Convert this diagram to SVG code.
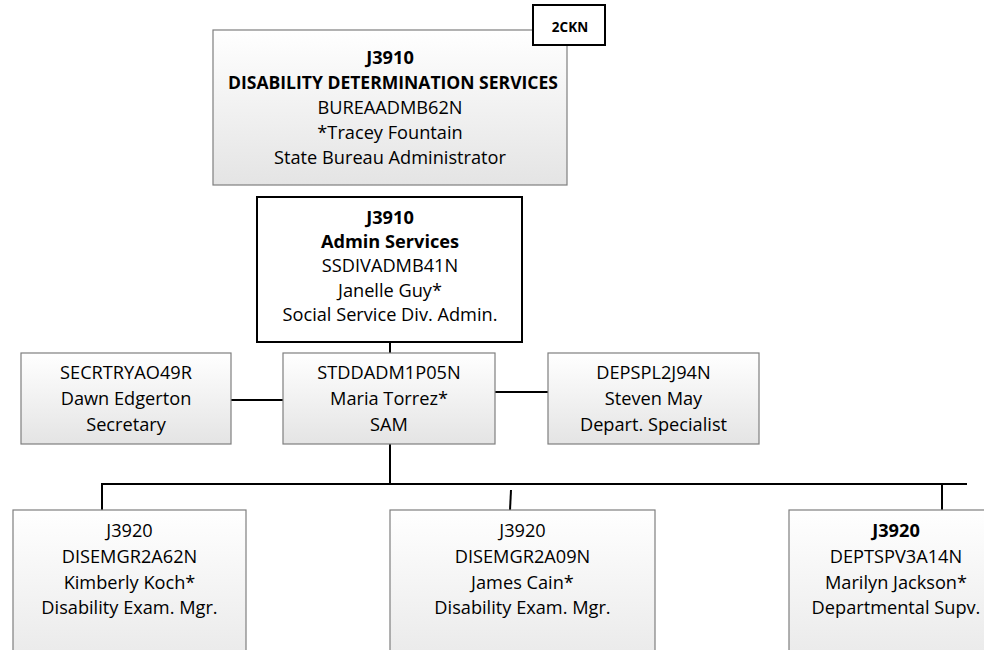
<svg xmlns="http://www.w3.org/2000/svg" width="984" height="650" viewBox="0 0 984 650">
<defs>
<linearGradient id="g" x1="0" y1="0" x2="0" y2="1">
<stop offset="0" stop-color="#ffffff"/>
<stop offset="1" stop-color="#e4e4e4"/>
</linearGradient>
<linearGradient id="g2" x1="0" y1="0" x2="0" y2="1">
<stop offset="0" stop-color="#ffffff"/>
<stop offset="0.7" stop-color="#ececec"/>
<stop offset="1" stop-color="#e4e4e4"/>
</linearGradient>
</defs>
<style>
.box{fill:url(#g);stroke:#7f7f7f;stroke-width:1.2}
.box2{fill:url(#g2);stroke:#7f7f7f;stroke-width:1.2}
.bold{fill:#ffffff;stroke:#000;stroke-width:2}
text{font-family:"Open Sans","Liberation Sans",sans-serif;font-size:18.2px;fill:#000;text-anchor:middle}
.b{font-weight:bold}
.conn line{stroke:#000;stroke-width:2;fill:none}
</style>
<rect width="984" height="650" fill="#ffffff"/>

<g class="conn" id="connectors">
<line x1="390" y1="342" x2="390" y2="353"/>
<line x1="231" y1="400" x2="283" y2="400"/>
<line x1="495" y1="392" x2="548" y2="392"/>
<line x1="390" y1="444" x2="390" y2="484"/>
<line x1="101" y1="484" x2="967" y2="484"/>
<line x1="102" y1="484" x2="102" y2="510"/>
<line x1="511" y1="490" x2="510" y2="510"/>
<line x1="942" y1="484" x2="942" y2="510"/>
</g>

<g id="node-dds">
<rect class="box" x="213" y="30" width="354" height="155"/>
<text x="390" y="64" class="b">J3910</text>
<text x="393" y="89" class="b" textLength="330" lengthAdjust="spacingAndGlyphs">DISABILITY DETERMINATION SERVICES</text>
<text x="390" y="114">BUREAADMB62N</text>
<text x="390" y="139">*Tracey Fountain</text>
<text x="390" y="164">State Bureau Administrator</text>
</g>

<g id="node-2ckn">
<rect class="bold" x="533" y="5" width="72" height="40"/>
<text x="570" y="32" class="b" style="font-size:13.5px">2CKN</text>
</g>

<g id="node-admin">
<rect class="bold" x="257" y="197" width="265" height="145"/>
<text x="390" y="224" class="b">J3910</text>
<text x="390" y="248" class="b">Admin Services</text>
<text x="390" y="272">SSDIVADMB41N</text>
<text x="390" y="296.5">Janelle Guy*</text>
<text x="390" y="321">Social Service Div. Admin.</text>
</g>

<g id="node-secretary">
<rect class="box" x="21" y="353" width="210" height="91"/>
<text x="126" y="379">SECRTRYAO49R</text>
<text x="126" y="405">Dawn Edgerton</text>
<text x="126" y="431">Secretary</text>
</g>

<g id="node-sam">
<rect class="box" x="283" y="353" width="212" height="91"/>
<text x="389" y="379">STDDADM1P05N</text>
<text x="389" y="405">Maria Torrez*</text>
<text x="389" y="431">SAM</text>
</g>

<g id="node-specialist">
<rect class="box" x="548" y="353" width="211" height="91"/>
<text x="653.5" y="379">DEPSPL2J94N</text>
<text x="653.5" y="405">Steven May</text>
<text x="653.5" y="431">Depart. Specialist</text>
</g>

<g id="node-koch">
<rect class="box2" x="13" y="510" width="233" height="190"/>
<text x="129.5" y="537">J3920</text>
<text x="129.5" y="563">DISEMGR2A62N</text>
<text x="129.5" y="589">Kimberly Koch*</text>
<text x="129.5" y="614">Disability Exam. Mgr.</text>
</g>

<g id="node-cain">
<rect class="box2" x="390" y="510" width="265" height="190"/>
<text x="522.5" y="537">J3920</text>
<text x="522.5" y="563">DISEMGR2A09N</text>
<text x="522.5" y="589">James Cain*</text>
<text x="522.5" y="614">Disability Exam. Mgr.</text>
</g>

<g id="node-jackson">
<rect class="box2" x="789" y="510" width="214" height="190"/>
<text x="896" y="537" class="b">J3920</text>
<text x="896" y="563">DEPTSPV3A14N</text>
<text x="896" y="589">Marilyn Jackson*</text>
<text x="896" y="614">Departmental Supv.</text>
</g>
</svg>
